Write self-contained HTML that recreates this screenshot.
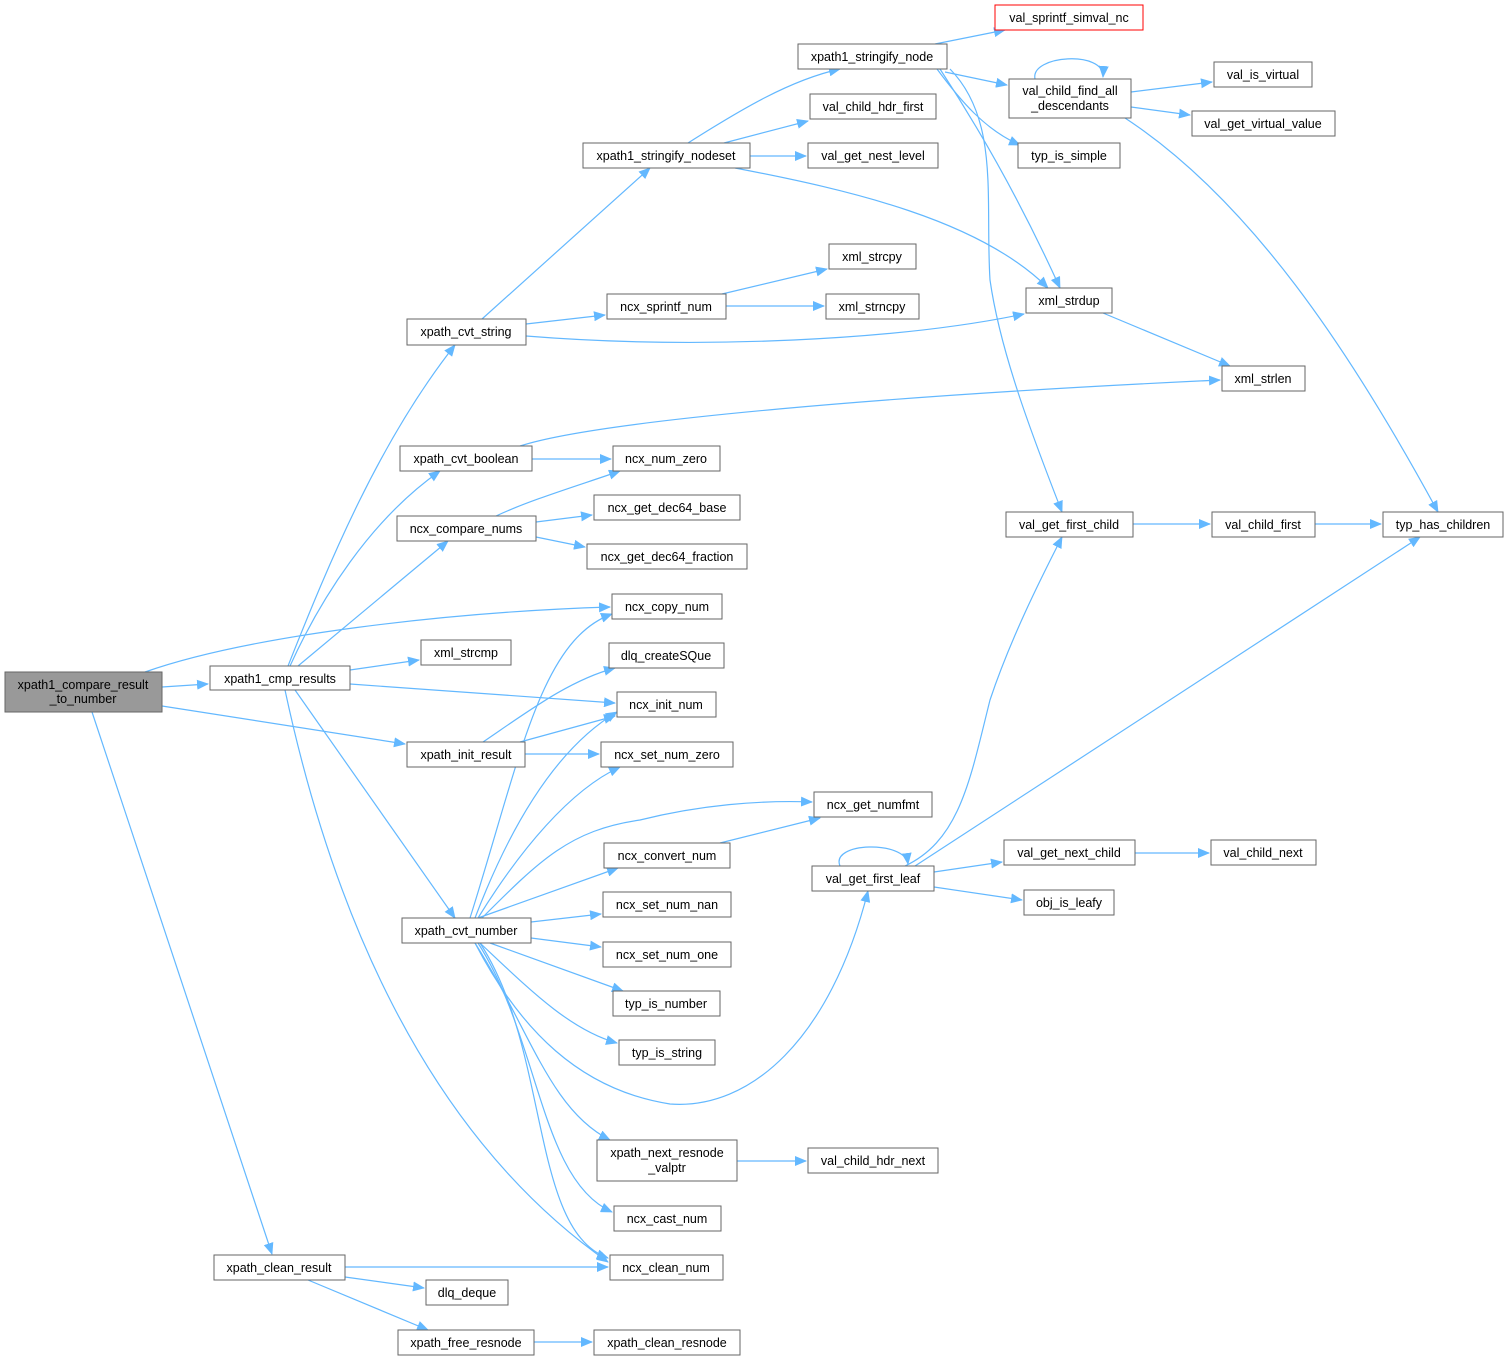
<!DOCTYPE html>
<html><head><meta charset="utf-8"><style>
html,body{margin:0;padding:0;background:#fff;}
svg{display:block;}
text{font-family:"Liberation Sans",Arial,sans-serif;font-size:12.5px;fill:#000;}
.n{fill:#fff;stroke:#666;stroke-width:1;}
.e{fill:none;stroke:#63b8ff;stroke-width:1.2;marker-end:url(#a);}
</style></head><body>
<svg width="1509" height="1361" viewBox="0 0 1509 1361" xmlns="http://www.w3.org/2000/svg">
<defs><marker id="a" markerWidth="12" markerHeight="10" refX="11" refY="5" orient="auto" markerUnits="userSpaceOnUse"><path d="M0,0 L12,5 L0,10 z" fill="#63b8ff"/></marker></defs>
<g>
<path class="e" d="M145,672 C250,635 450,612 610,607"/>
<path class="e" d="M162,687 L208,684"/>
<path class="e" d="M162,706 L405,744"/>
<path class="e" d="M92,712 L272,1254"/>
<path class="e" d="M288,666 C330,560 380,440 455,345"/>
<path class="e" d="M290,666 C320,600 370,520 440,471"/>
<path class="e" d="M298,666 L448,541"/>
<path class="e" d="M350,670 L419,660"/>
<path class="e" d="M350,684 L615,703"/>
<path class="e" d="M295,690 L455,918"/>
<path class="e" d="M285,690 C330,900 420,1130 608,1262"/>
<path class="e" d="M482,319 L650,168"/>
<path class="e" d="M526,324 L605,315"/>
<path class="e" d="M526,336 C700,350 900,340 1024,314"/>
<path class="e" d="M688,143 C740,110 790,80 840,69"/>
<path class="e" d="M724,143 L808,121"/>
<path class="e" d="M750,156 L806,156"/>
<path class="e" d="M735,168 C850,190 980,220 1048,288"/>
<path class="e" d="M935,44 L1005,30"/>
<path class="e" d="M945,72 L1007,85"/>
<path class="e" d="M937,69 C960,100 985,130 1020,145"/>
<path class="e" d="M940,69 C980,130 1020,200 1060,288"/>
<path class="e" d="M950,69 C1000,120 985,200 990,280 C1000,350 1030,430 1062,512"/>
<path class="e" d="M1035,79 C1030,55 1105,50 1103,77"/>
<path class="e" d="M1131,92 L1212,82"/>
<path class="e" d="M1131,107 L1190,115"/>
<path class="e" d="M1125,118 C1250,200 1350,350 1438,512"/>
<path class="e" d="M722,294 L827,269"/>
<path class="e" d="M726,306 L824,306"/>
<path class="e" d="M1103,313 L1230,366"/>
<path class="e" d="M520,446 C600,420 900,395 1220,380"/>
<path class="e" d="M532,459 L611,459"/>
<path class="e" d="M496,516 C530,500 580,485 620,471"/>
<path class="e" d="M536,522 L592,515"/>
<path class="e" d="M536,537 L585,547"/>
<path class="e" d="M1133,524 L1210,524"/>
<path class="e" d="M1315,524 L1381,524"/>
<path class="e" d="M483,742 C530,710 570,680 615,668"/>
<path class="e" d="M520,742 L615,716"/>
<path class="e" d="M525,754 L599,754"/>
<path class="e" d="M470,918 C520,760 540,640 612,614"/>
<path class="e" d="M475,918 C520,800 570,740 617,712"/>
<path class="e" d="M478,918 C520,850 570,790 620,767"/>
<path class="e" d="M482,918 C540,860 570,830 640,820 C700,805 760,800 812,802"/>
<path class="e" d="M478,918 L618,868"/>
<path class="e" d="M531,922 L601,914"/>
<path class="e" d="M531,938 L601,947"/>
<path class="e" d="M490,943 L623,991"/>
<path class="e" d="M480,943 C530,990 570,1030 617,1043"/>
<path class="e" d="M475,943 C520,1030 580,1090 670,1104 C750,1110 830,1040 868,891"/>
<path class="e" d="M475,943 C530,1030 550,1110 610,1140"/>
<path class="e" d="M478,943 C540,1040 540,1180 612,1212"/>
<path class="e" d="M480,943 C550,1050 530,1230 608,1258"/>
<path class="e" d="M840,866 C830,842 905,840 908,864"/>
<path class="e" d="M905,866 C960,840 970,780 990,700 C1010,640 1040,580 1062,537"/>
<path class="e" d="M915,866 L1420,537"/>
<path class="e" d="M934,872 L1002,862"/>
<path class="e" d="M934,887 L1022,900"/>
<path class="e" d="M720,843 L820,818"/>
<path class="e" d="M1135,853 L1209,853"/>
<path class="e" d="M737,1161 L806,1161"/>
<path class="e" d="M345,1267 L608,1267"/>
<path class="e" d="M345,1277 L424,1288"/>
<path class="e" d="M308,1280 L428,1330"/>
<path class="e" d="M534,1342 L592,1342"/>
</g>
<g text-anchor="middle">
<rect x="5" y="672" width="157" height="40" fill="#999" stroke="#666"/><text x="83" y="689">xpath1_compare_result</text><text x="83" y="703">_to_number</text>
<rect class="n" x="210" y="666" width="140" height="24"/><text x="280" y="683">xpath1_cmp_results</text>
<rect class="n" x="407" y="319" width="119" height="26"/><text x="466" y="336">xpath_cvt_string</text>
<rect class="n" x="583" y="143" width="167" height="25"/><text x="666" y="160">xpath1_stringify_nodeset</text>
<rect class="n" x="798" y="44" width="149" height="25"/><text x="872" y="61">xpath1_stringify_node</text>
<rect x="995" y="5" width="148" height="25" fill="#fff" stroke="#f00"/><text x="1069" y="22">val_sprintf_simval_nc</text>
<rect class="n" x="1009" y="79" width="122" height="39"/><text x="1070" y="95">val_child_find_all</text><text x="1070" y="110">_descendants</text>
<rect class="n" x="1214" y="62" width="98" height="25"/><text x="1263" y="79">val_is_virtual</text>
<rect class="n" x="1192" y="111" width="143" height="25"/><text x="1263" y="128">val_get_virtual_value</text>
<rect class="n" x="810" y="94" width="126" height="25"/><text x="873" y="111">val_child_hdr_first</text>
<rect class="n" x="808" y="143" width="130" height="25"/><text x="873" y="160">val_get_nest_level</text>
<rect class="n" x="1018" y="143" width="102" height="25"/><text x="1069" y="160">typ_is_simple</text>
<rect class="n" x="829" y="244" width="87" height="25"/><text x="872" y="261">xml_strcpy</text>
<rect class="n" x="607" y="294" width="119" height="25"/><text x="666" y="311">ncx_sprintf_num</text>
<rect class="n" x="826" y="294" width="93" height="25"/><text x="872" y="311">xml_strncpy</text>
<rect class="n" x="1026" y="288" width="86" height="25"/><text x="1069" y="305">xml_strdup</text>
<rect class="n" x="1222" y="366" width="83" height="25"/><text x="1263" y="383">xml_strlen</text>
<rect class="n" x="400" y="446" width="132" height="25"/><text x="466" y="463">xpath_cvt_boolean</text>
<rect class="n" x="613" y="446" width="107" height="25"/><text x="666" y="463">ncx_num_zero</text>
<rect class="n" x="397" y="516" width="139" height="25"/><text x="466" y="533">ncx_compare_nums</text>
<rect class="n" x="594" y="495" width="146" height="25"/><text x="667" y="512">ncx_get_dec64_base</text>
<rect class="n" x="587" y="544" width="160" height="25"/><text x="667" y="561">ncx_get_dec64_fraction</text>
<rect class="n" x="1006" y="512" width="127" height="25"/><text x="1069" y="529">val_get_first_child</text>
<rect class="n" x="1212" y="512" width="103" height="25"/><text x="1263" y="529">val_child_first</text>
<rect class="n" x="1383" y="512" width="120" height="25"/><text x="1443" y="529">typ_has_children</text>
<rect class="n" x="612" y="594" width="110" height="25"/><text x="667" y="611">ncx_copy_num</text>
<rect class="n" x="421" y="640" width="90" height="25"/><text x="466" y="657">xml_strcmp</text>
<rect class="n" x="609" y="643" width="115" height="25"/><text x="666" y="660">dlq_createSQue</text>
<rect class="n" x="617" y="692" width="99" height="25"/><text x="666" y="709">ncx_init_num</text>
<rect class="n" x="407" y="742" width="118" height="25"/><text x="466" y="759">xpath_init_result</text>
<rect class="n" x="601" y="742" width="132" height="25"/><text x="667" y="759">ncx_set_num_zero</text>
<rect class="n" x="814" y="792" width="118" height="25"/><text x="873" y="809">ncx_get_numfmt</text>
<rect class="n" x="604" y="843" width="126" height="25"/><text x="667" y="860">ncx_convert_num</text>
<rect class="n" x="812" y="866" width="122" height="25"/><text x="873" y="883">val_get_first_leaf</text>
<rect class="n" x="1004" y="840" width="131" height="25"/><text x="1069" y="857">val_get_next_child</text>
<rect class="n" x="1211" y="840" width="105" height="25"/><text x="1263" y="857">val_child_next</text>
<rect class="n" x="1024" y="890" width="90" height="25"/><text x="1069" y="907">obj_is_leafy</text>
<rect class="n" x="402" y="918" width="129" height="25"/><text x="466" y="935">xpath_cvt_number</text>
<rect class="n" x="603" y="892" width="128" height="25"/><text x="667" y="909">ncx_set_num_nan</text>
<rect class="n" x="603" y="942" width="128" height="25"/><text x="667" y="959">ncx_set_num_one</text>
<rect class="n" x="613" y="991" width="107" height="25"/><text x="666" y="1008">typ_is_number</text>
<rect class="n" x="619" y="1040" width="96" height="25"/><text x="667" y="1057">typ_is_string</text>
<rect class="n" x="597" y="1140" width="140" height="41"/><text x="667" y="1157">xpath_next_resnode</text><text x="667" y="1172">_valptr</text>
<rect class="n" x="808" y="1148" width="130" height="25"/><text x="873" y="1165">val_child_hdr_next</text>
<rect class="n" x="614" y="1206" width="107" height="25"/><text x="667" y="1223">ncx_cast_num</text>
<rect class="n" x="610" y="1255" width="113" height="25"/><text x="666" y="1272">ncx_clean_num</text>
<rect class="n" x="214" y="1255" width="131" height="25"/><text x="279" y="1272">xpath_clean_result</text>
<rect class="n" x="426" y="1280" width="82" height="25"/><text x="467" y="1297">dlq_deque</text>
<rect class="n" x="398" y="1330" width="136" height="25"/><text x="466" y="1347">xpath_free_resnode</text>
<rect class="n" x="594" y="1330" width="146" height="25"/><text x="667" y="1347">xpath_clean_resnode</text>
</g>
</svg>
</body></html>
